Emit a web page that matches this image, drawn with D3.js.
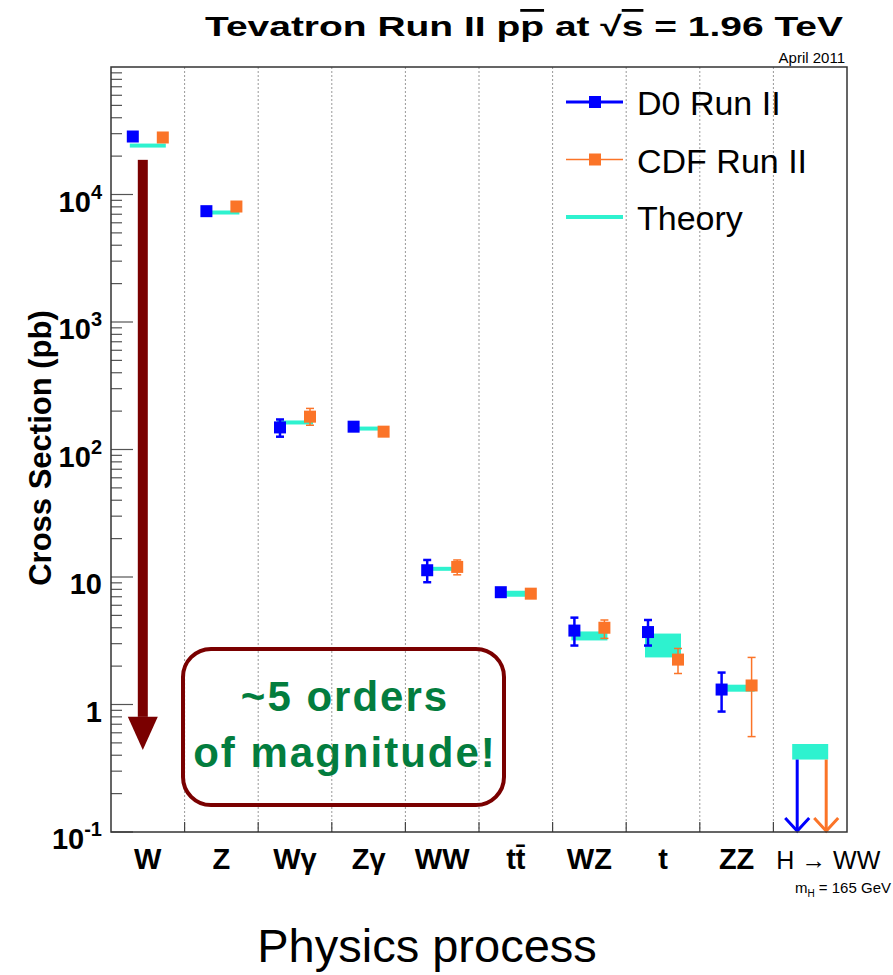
<!DOCTYPE html>
<html lang="en">
<head>
    <meta charset="UTF-8">
    <title>Tevatron cross sections</title>
    <script src="https://cdn.jsdelivr.net/npm/d3@7"></script>
    <style>
        body { margin: 0; background: #fff; }
        text { font-family: "Liberation Sans", Arial, sans-serif; }
    </style>
</head>
<body>
<svg width="893" height="975" xmlns="http://www.w3.org/2000/svg" id="chart"></svg>
<script>
    // categories and measured cross sections (pb)
    const categories = ["W", "Z", "Wγ", "Zγ", "WW", "tt\u0304", "WZ", "t", "ZZ", "H → WW"];

    const d0 = [28500, 7400, 149, 151, 11.3, 7.6, 3.8, 3.7, 1.31, null];
    const d0Lo = [27900, 7250, 126, 142, 9.1, 7.2, 2.9, 2.9, 0.88, null];
    const d0Hi = [29100, 7550, 172, 160, 13.6, 8.0, 4.8, 4.6, 1.78, null];

    const cdf = [28000, 8050, 181, 138, 12.0, 7.4, 4.0, 2.25, 1.41, null];
    const cdfLo = [27400, 7850, 155, 131, 10.4, 7.0, 3.3, 1.75, 0.56, null];
    const cdfHi = [28600, 8250, 210, 145, 13.6, 7.8, 4.6, 2.75, 2.34, null];

    const theoryLo = [23800, 7100, 158, 142, 11.2, 7.0, 3.18, 2.34, 1.26, 0.37];
    const theoryHi = [24600, 7350, 168, 150, 12.0, 7.8, 3.74, 3.6, 1.43, 0.49];

    // 95% CL upper limits for H -> WW (arrows)
    const d0Limit = [null, null, null, null, null, null, null, null, null, 0.37];
    const cdfLimit = [null, null, null, null, null, null, null, null, null, 0.37];

    const yTicks = [0.1, 1, 10, 100, 1000, 10000];

    const blue = "#0000ff", orange = "#fb7428", cyan = "#2ef2cf", maroon = "#7a0000", green = "#037d3e";

    const m = {left: 111, right: 847, top: 67, bottom: 832};
    const svg = d3.select("#chart");

    const x = d3.scaleBand().domain(categories).range([m.left, m.right]).padding(0);
    const y = d3.scaleLog().domain([0.1, 1e5]).range([m.bottom, m.top]);
    const cx = i => x(categories[i]) + x.bandwidth() / 2;

    // title
    const title = svg.append("text")
        .attr("x", 205).attr("y", 36)
        .attr("textLength", 638).attr("lengthAdjust", "spacingAndGlyphs")
        .style("font-size", "28px").style("font-weight", "bold");
    title.append("tspan").text("Tevatron Run II p");
    title.append("tspan").style("text-decoration", "overline").text("p");
    title.append("tspan").text(" at \u221A");
    title.append("tspan").style("text-decoration", "overline").text("s");
    title.append("tspan").text(" = 1.96 TeV");

    svg.append("text").attr("x", 845).attr("y", 63).attr("text-anchor", "end")
        .style("font-size", "15px").text("April 2011");

    // grid lines between categories
    svg.append("g").selectAll("line")
        .data(categories.slice(1))
        .join("line")
        .attr("x1", d => x(d)).attr("x2", d => x(d))
        .attr("y1", m.top).attr("y2", m.bottom)
        .attr("stroke", "#999").attr("stroke-width", 1)
        .attr("stroke-dasharray", "2,2");
    svg.append("g").selectAll("line")
        .data(categories.slice(1))
        .join("line")
        .attr("x1", d => x(d)).attr("x2", d => x(d))
        .attr("y1", m.bottom).attr("y2", m.bottom - 10)
        .attr("stroke", "#444").attr("stroke-width", 1.2);

    // y ticks (major + minor)
    const minor = [];
    for (let e = -1; e < 5; e++) {
        for (let k = 2; k <= 9; k++) minor.push(k * Math.pow(10, e));
    }
    svg.append("g").selectAll("line")
        .data(minor)
        .join("line")
        .attr("x1", m.left).attr("x2", m.left + 11)
        .attr("y1", d => y(d)).attr("y2", d => y(d))
        .attr("stroke", "#555").attr("stroke-width", 1.2);
    svg.append("g").selectAll("line")
        .data(yTicks)
        .join("line")
        .attr("x1", m.left).attr("x2", m.left + 22)
        .attr("y1", d => y(d)).attr("y2", d => y(d))
        .attr("stroke", "#555").attr("stroke-width", 1.2);

    const yLab = svg.append("g").selectAll("text")
        .data(yTicks)
        .join("text")
        .attr("x", 102).attr("y", d => y(d) + 17)
        .attr("text-anchor", "end")
        .style("font-size", "29px").style("font-weight", "bold");
    yLab.each(function (d) {
        const t = d3.select(this);
        const e = Math.round(Math.log10(d));
        if (e === 0) t.text("1");
        else if (e === 1) t.text("10");
        else {
            t.append("tspan").text("10");
            t.append("tspan").attr("dy", -13).style("font-size", "20px").text(e);
        }
    });

    svg.append("text")
        .attr("transform", "translate(51,448) rotate(-90)")
        .attr("text-anchor", "middle")
        .style("font-size", "31px").style("font-weight", "bold")
        .text("Cross Section (pb)");

    // x labels
    svg.append("g").selectAll("text")
        .data(categories)
        .join("text")
        .attr("x", (d, i) => i === 9 ? cx(i) + 18 : cx(i))
        .attr("y", 869)
        .attr("text-anchor", "middle")
        .style("font-size", d => d === "H → WW" ? "25px" : "29px")
        .style("font-weight", d => d === "H → WW" ? "normal" : "bold")
        .text(d => d);

    const mh = svg.append("text").attr("x", 891).attr("y", 893).attr("text-anchor", "end")
        .style("font-size", "15px");
    mh.append("tspan").text("m");
    mh.append("tspan").attr("dy", 4).style("font-size", "10px").text("H");
    mh.append("tspan").attr("dy", -4).text(" = 165 GeV");

    svg.append("text").attr("x", 427).attr("y", 962).attr("text-anchor", "middle")
        .style("font-size", "47px").text("Physics process");

    // theory bands
    const half = 18;
    svg.append("g").selectAll("rect")
        .data(categories)
        .join("rect")
        .attr("x", (d, i) => cx(i) - half)
        .attr("width", 2 * half)
        .attr("y", (d, i) => Math.min(y(theoryHi[i]), (y(theoryHi[i]) + y(theoryLo[i])) / 2 - 2))
        .attr("height", (d, i) => Math.max(4, y(theoryLo[i]) - y(theoryHi[i])))
        .attr("fill", cyan);

    // H -> WW limit arrows
    function limitArrows(vals, off, color) {
        const g = svg.append("g");
        vals.forEach((v, i) => {
            if (v == null) return;
            const xx = cx(i) + off;
            g.append("line").attr("x1", xx).attr("x2", xx)
                .attr("y1", y(v)).attr("y2", m.bottom - 2)
                .attr("stroke", color).attr("stroke-width", 3);
            g.append("path")
                .attr("d", `M${xx - 12},${m.bottom - 14} L${xx},${m.bottom - 1} L${xx + 12},${m.bottom - 14}`)
                .attr("fill", "none").attr("stroke", color).attr("stroke-width", 3);
        });
    }
    limitArrows(d0Limit, -13, blue);
    limitArrows(cdfLimit, 16, orange);

    // error bars + markers
    function series(vals, lo, hi, off, color, w) {
        const g = svg.append("g");
        const idx = d3.range(vals.length).filter(i => vals[i] != null);
        g.selectAll("line.err").data(idx).join("line")
            .attr("x1", i => cx(i) + off).attr("x2", i => cx(i) + off)
            .attr("y1", i => y(hi[i])).attr("y2", i => y(lo[i]))
            .attr("stroke", color).attr("stroke-width", w);
        [lo, hi].forEach(arr => {
            g.selectAll(null).data(idx).join("line")
                .attr("x1", i => cx(i) + off - 4).attr("x2", i => cx(i) + off + 4)
                .attr("y1", i => y(arr[i])).attr("y2", i => y(arr[i]))
                .attr("stroke", color).attr("stroke-width", w);
        });
        g.selectAll("rect").data(idx).join("rect")
            .attr("x", i => cx(i) + off - 6).attr("y", i => y(vals[i]) - 6)
            .attr("width", 12).attr("height", 12)
            .attr("fill", color);
    }
    series(d0, d0Lo, d0Hi, -15, blue, 2.5);
    series(cdf, cdfLo, cdfHi, 15, orange, 1.5);

    // frame
    svg.append("rect")
        .attr("x", m.left).attr("y", m.top)
        .attr("width", m.right - m.left).attr("height", m.bottom - m.top)
        .attr("fill", "none").attr("stroke", "#333").attr("stroke-width", 1.5);

    // legend
    const legend = [
        {label: "D0 Run II", color: blue, w: 3, marker: true},
        {label: "CDF Run II", color: orange, w: 1.5, marker: true},
        {label: "Theory", color: cyan, w: 4, marker: false}
    ];
    const lg = svg.append("g").selectAll("g").data(legend).join("g")
        .attr("transform", (d, i) => `translate(566,${102 + i * 57.5})`);
    lg.append("line").attr("x1", 0).attr("x2", 57)
        .attr("stroke", d => d.color).attr("stroke-width", d => d.w);
    lg.filter(d => d.marker).append("rect")
        .attr("x", 23).attr("y", -6).attr("width", 12).attr("height", 12)
        .attr("fill", d => d.color);
    lg.append("text").attr("x", 71).attr("y", 13)
        .style("font-size", "34px").text(d => d.label);

    // annotation: big arrow spanning ~5 orders of magnitude
    const ax = cx(0) - 5;
    svg.append("rect")
        .attr("x", ax - 5).attr("width", 10)
        .attr("y", y(18700)).attr("height", y(0.8) - y(18700))
        .attr("fill", maroon);
    svg.append("path")
        .attr("d", `M${ax - 15},${y(0.8)} L${ax + 15},${y(0.8)} L${ax},${y(0.44)} Z`)
        .attr("fill", maroon);

    svg.append("rect")
        .attr("x", 183).attr("y", 649).attr("width", 321).attr("height", 156)
        .attr("rx", 28).attr("ry", 28)
        .attr("fill", "none").attr("stroke", maroon).attr("stroke-width", 4);
    svg.append("g").selectAll("text")
        .data(["~5 orders", "of magnitude!"])
        .join("text")
        .attr("x", 345).attr("y", (d, i) => 711 + i * 56)
        .attr("text-anchor", "middle")
        .style("font-size", "42px").style("font-weight", "bold")
        .style("letter-spacing", "2px")
        .attr("fill", green)
        .text(d => d);
</script>
</body>
</html>
